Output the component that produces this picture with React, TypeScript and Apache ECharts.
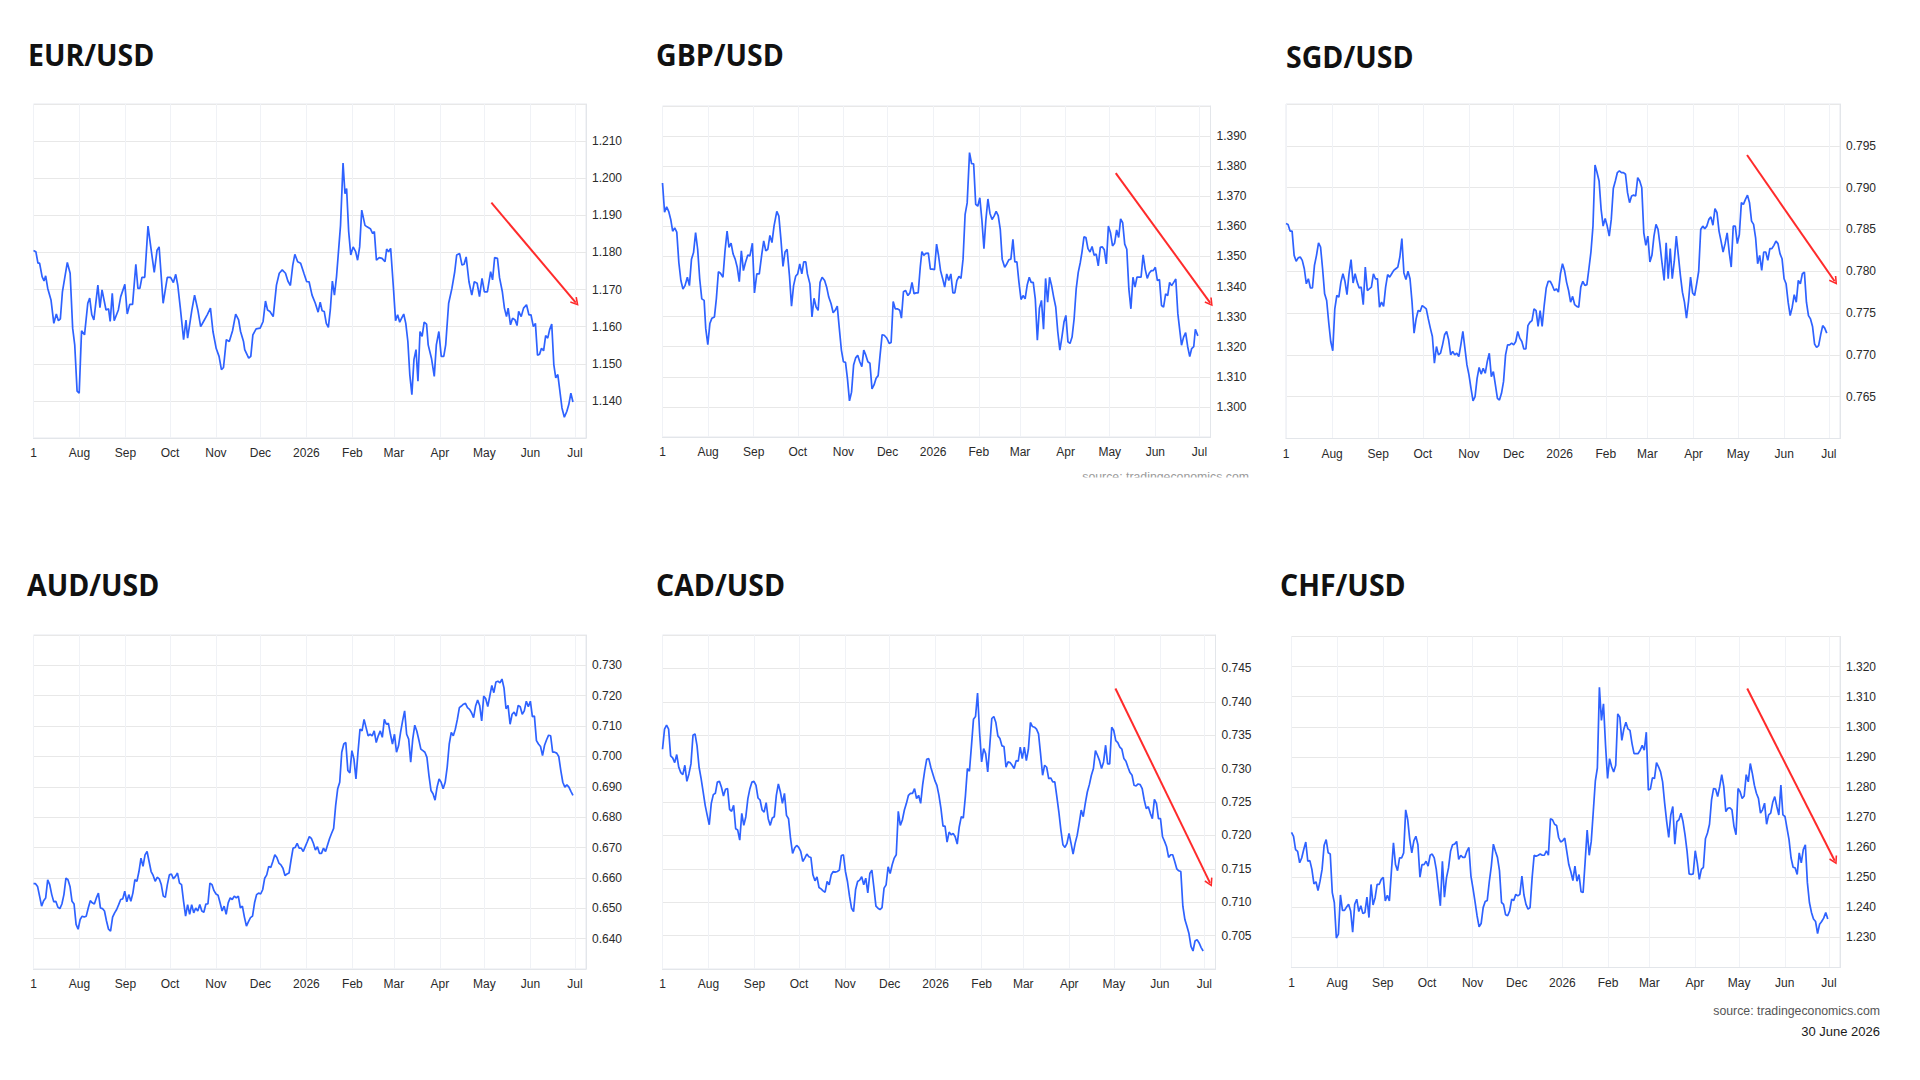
import React, { useEffect, useRef } from "react";
import * as echarts from "echarts";

// ---------- data ----------
// day offsets are counted from 1 July 2025
const START = new Date(2025, 6, 1).getTime();
const DAY = 86400000;
const X_MAX_DAY = 372.5;

const MONTHS = ["Jan", "Feb", "Mar", "Apr", "May", "Jun", "Jul", "Aug", "Sep", "Oct", "Nov", "Dec"];

const EUR_POINTS: [number, number][] = [
  [0, 1.1805], [1.6, 1.1802], [3.0, 1.1771], [4.1, 1.1771], [5.8, 1.1735], [7.1, 1.1723], [8.2, 1.1737], [9.6, 1.1703], [11.8, 1.1672], [13.7, 1.1609],
  [15.4, 1.1634], [16.8, 1.1616], [18.1, 1.1621], [19.5, 1.1694], [22.8, 1.1773], [24.7, 1.1744], [26.4, 1.1596], [27.8, 1.1551], [29.4, 1.1426], [30.8, 1.1421],
  [32.4, 1.1589], [34.4, 1.1578], [36.6, 1.1663], [37.9, 1.1677], [39.3, 1.1632], [40.7, 1.1618], [43.4, 1.1712], [44.8, 1.1651], [46.2, 1.1699], [48.9, 1.1645],
  [50.6, 1.1648], [51.7, 1.1614], [53.1, 1.169], [54.4, 1.1616], [57.2, 1.1645], [58.8, 1.1681], [61.6, 1.1714], [63.2, 1.1634], [64.9, 1.166], [66.8, 1.166],
  [69.0, 1.1768], [70.4, 1.1703], [71.7, 1.1703], [73.1, 1.1733], [75.0, 1.1733], [77.2, 1.1871], [79.2, 1.1811], [81.4, 1.1746], [83.3, 1.1806], [84.7, 1.1815],
  [87.4, 1.1663], [90.2, 1.1733], [92.4, 1.1733], [94.3, 1.1719], [95.9, 1.1741], [97.3, 1.1711], [99.0, 1.165], [101.2, 1.1565], [102.8, 1.1618], [103.9, 1.1569],
  [106.7, 1.1643], [108.6, 1.1685], [110.8, 1.1645], [112.7, 1.16], [114.9, 1.1616], [117.1, 1.1632], [119.3, 1.165], [121.0, 1.1587], [123.2, 1.1541], [125.1, 1.152],
  [126.7, 1.1484], [128.1, 1.149], [130.0, 1.1565], [132.0, 1.156], [134.2, 1.1589], [136.3, 1.1634], [138.3, 1.1618], [139.6, 1.1587], [141.6, 1.156], [142.4, 1.1538],
  [145.1, 1.1515], [146.5, 1.152], [147.9, 1.1578], [150.1, 1.1594], [152.8, 1.1596], [154.8, 1.1614], [156.4, 1.1669], [157.8, 1.1645], [159.4, 1.1641], [161.6, 1.1627],
  [163.8, 1.1712], [165.7, 1.1744], [167.7, 1.1753], [169.9, 1.1744], [171.5, 1.1723], [173.2, 1.1711], [174.8, 1.1766], [176.2, 1.1795], [178.1, 1.1775], [180.1, 1.1771],
  [182.3, 1.1744], [184.2, 1.1721], [185.8, 1.1721], [187.8, 1.1685], [190.0, 1.1663], [191.9, 1.1639], [193.3, 1.1666], [194.6, 1.1643], [196.0, 1.1641], [197.4, 1.1609],
  [198.8, 1.1598], [200.1, 1.1645], [201.5, 1.1723], [202.9, 1.1685], [204.3, 1.1735], [207.0, 1.1873], [208.7, 1.2041], [210.0, 1.1958], [211.1, 1.1972], [212.5, 1.1856],
  [213.9, 1.1793], [215.5, 1.1815], [217.2, 1.1802], [218.5, 1.1779], [219.9, 1.1815], [221.3, 1.1914], [223.5, 1.1873], [224.9, 1.1869], [227.1, 1.1864], [228.7, 1.1851],
  [229.8, 1.1856], [231.2, 1.1779], [233.1, 1.1786], [235.0, 1.1784], [237.0, 1.1775], [238.1, 1.1809], [239.4, 1.1802], [240.8, 1.1811], [242.7, 1.1703], [244.1, 1.1616],
  [245.5, 1.1632], [246.9, 1.1612], [248.2, 1.1623], [249.6, 1.1634], [251.0, 1.1609], [252.4, 1.156], [253.7, 1.1471], [255.1, 1.1417], [256.5, 1.1511], [257.9, 1.1538],
  [259.2, 1.1453], [260.6, 1.1587], [262.0, 1.1574], [263.4, 1.1612], [265.0, 1.1607], [266.1, 1.1551], [268.3, 1.1515], [270.2, 1.1466], [271.6, 1.1551], [273.3, 1.1587],
  [274.9, 1.152], [276.6, 1.152], [277.9, 1.1551], [279.9, 1.1663], [282.1, 1.1703], [284.0, 1.1748], [285.3, 1.1793], [287.3, 1.1797], [288.9, 1.1766], [290.3, 1.1768],
  [291.7, 1.1788], [293.6, 1.1721], [295.5, 1.1685], [297.2, 1.1721], [299.1, 1.1717], [300.7, 1.1681], [302.4, 1.173], [304.0, 1.1694], [306.0, 1.1694], [308.2, 1.1748],
  [309.5, 1.1726], [310.9, 1.1786], [312.8, 1.1784], [314.2, 1.1732], [316.1, 1.1694], [317.5, 1.165], [318.9, 1.1627], [320.0, 1.165], [321.6, 1.1605], [323.0, 1.1623],
  [324.7, 1.1618], [326.0, 1.1603], [327.1, 1.1641], [328.8, 1.1627], [330.4, 1.165], [332.4, 1.1659], [334.0, 1.1632], [335.4, 1.1632], [337.0, 1.16], [338.4, 1.1609],
  [339.8, 1.1523], [341.2, 1.1526], [342.5, 1.1542], [343.9, 1.1535], [345.3, 1.1576], [346.7, 1.1569], [348.0, 1.1592], [349.4, 1.1607], [350.8, 1.1498], [352.1, 1.1462],
  [353.5, 1.1471], [354.9, 1.1426], [356.3, 1.1381], [357.9, 1.1356], [359.6, 1.1372], [360.9, 1.139], [362.3, 1.1421], [363.7, 1.1397],
];

const GBP_POINTS: [number, number][] = [
  [0, 1.3744], [1.4, 1.3647], [2.8, 1.3665], [4.2, 1.365], [5.6, 1.3623], [6.9, 1.3584], [8.3, 1.3595], [9.7, 1.3581], [11.1, 1.348], [12.5, 1.342],
  [13.9, 1.3392], [15.3, 1.3403], [16.9, 1.3431], [18.3, 1.3403], [19.7, 1.3491], [21.1, 1.3513], [22.5, 1.3579], [23.9, 1.3524], [25.3, 1.3425], [26.7, 1.3359],
  [28.3, 1.3354], [29.4, 1.326], [30.8, 1.3207], [32.2, 1.3277], [33.6, 1.3295], [35.3, 1.3299], [36.6, 1.3359], [38.0, 1.3449], [39.4, 1.3444], [41.1, 1.3431],
  [42.5, 1.3519], [43.9, 1.3584], [45.2, 1.353], [46.6, 1.3544], [48.0, 1.3508], [49.4, 1.3491], [50.8, 1.3464], [52.2, 1.3416], [53.6, 1.3519], [55.0, 1.3453],
  [56.4, 1.348], [58.0, 1.3505], [59.4, 1.3502], [61.1, 1.3544], [62.5, 1.3379], [64.1, 1.3442], [65.8, 1.3442], [67.5, 1.3508], [68.8, 1.3552], [70.2, 1.3519],
  [71.6, 1.3524], [73.0, 1.357], [74.4, 1.3546], [75.8, 1.3601], [77.7, 1.365], [79.1, 1.3634], [80.5, 1.3557], [81.9, 1.3467], [83.3, 1.3515], [84.7, 1.3524],
  [86.3, 1.3436], [87.7, 1.3335], [89.1, 1.3403], [90.5, 1.3434], [91.9, 1.3442], [93.3, 1.3475], [94.7, 1.3442], [96.0, 1.3482], [97.4, 1.3482], [98.5, 1.3442],
  [100.2, 1.3409], [101.6, 1.3299], [103.0, 1.3361], [104.4, 1.3332], [105.8, 1.3321], [107.1, 1.3414], [108.5, 1.3431], [110.2, 1.342], [111.6, 1.3398], [113.0, 1.3365],
  [114.6, 1.3343], [116.0, 1.3313], [117.4, 1.3321], [118.8, 1.3335], [120.2, 1.326], [121.6, 1.3189], [123.0, 1.315], [124.4, 1.3148], [125.7, 1.3095], [127.1, 1.302],
  [128.5, 1.3049], [129.9, 1.3139], [131.3, 1.3163], [132.7, 1.3172], [134.1, 1.315], [135.5, 1.3134], [136.8, 1.3189], [138.2, 1.3172], [139.6, 1.315], [141.0, 1.3145],
  [142.4, 1.306], [143.8, 1.3073], [145.2, 1.3095], [146.6, 1.3104], [147.9, 1.3172], [149.3, 1.324], [150.7, 1.3238], [152.4, 1.3229], [154.1, 1.3211], [155.4, 1.3214],
  [156.8, 1.335], [158.2, 1.3326], [159.6, 1.3326], [161.3, 1.3321], [162.4, 1.3295], [163.8, 1.3383], [165.2, 1.3387], [166.8, 1.337], [168.2, 1.3379], [169.6, 1.3414],
  [171.0, 1.3376], [172.4, 1.3379], [173.8, 1.3379], [175.2, 1.3464], [176.3, 1.3516], [177.6, 1.3504], [179.0, 1.351], [180.7, 1.3511], [182.1, 1.3458], [183.5, 1.3458],
  [184.9, 1.3456], [186.3, 1.3541], [187.6, 1.3504], [189.0, 1.3453], [190.4, 1.3427], [191.8, 1.3398], [193.2, 1.3442], [194.6, 1.342], [196.0, 1.3442], [197.4, 1.3379],
  [198.7, 1.3379], [200.1, 1.342], [201.5, 1.3434], [202.9, 1.3427], [204.3, 1.3491], [205.7, 1.364], [207.1, 1.3678], [208.7, 1.3845], [210.1, 1.3808], [211.5, 1.3808],
  [212.9, 1.3673], [214.3, 1.3667], [215.7, 1.3695], [217.1, 1.3621], [218.5, 1.3526], [219.8, 1.3621], [221.2, 1.3691], [222.6, 1.3643], [224.0, 1.3623], [225.4, 1.3634],
  [226.8, 1.365], [228.2, 1.3636], [229.6, 1.359], [230.9, 1.3491], [232.6, 1.3464], [234.0, 1.3475], [235.4, 1.3489], [236.8, 1.3491], [238.2, 1.3557], [239.5, 1.3482],
  [240.9, 1.3482], [242.3, 1.3414], [243.7, 1.3357], [245.1, 1.337], [246.5, 1.3359], [247.9, 1.3405], [249.3, 1.3431], [250.6, 1.3414], [252.0, 1.3414], [253.4, 1.3359],
  [254.8, 1.3222], [256.2, 1.3328], [257.6, 1.3354], [259.0, 1.3258], [260.4, 1.3427], [261.8, 1.3348], [263.1, 1.3431], [264.5, 1.3403], [265.9, 1.3365], [267.3, 1.3332],
  [268.7, 1.3249], [270.1, 1.3189], [271.5, 1.3232], [272.9, 1.3282], [274.2, 1.3304], [275.6, 1.3216], [277.0, 1.3211], [278.4, 1.3232], [279.8, 1.3293], [281.2, 1.3392],
  [282.6, 1.3447], [284.0, 1.348], [285.1, 1.3513], [286.5, 1.3565], [287.8, 1.3563], [289.2, 1.3526], [290.6, 1.3515], [292.0, 1.3533], [293.4, 1.3504], [294.8, 1.3508],
  [296.2, 1.3469], [297.6, 1.353], [298.9, 1.3532], [300.3, 1.3522], [301.7, 1.3475], [303.1, 1.3601], [304.5, 1.3579], [305.9, 1.3535], [307.3, 1.3544], [308.7, 1.3588],
  [310.1, 1.3563], [311.4, 1.3625], [312.8, 1.3612], [314.2, 1.3541], [315.6, 1.3524], [317.0, 1.3392], [318.4, 1.3326], [319.8, 1.3431], [321.2, 1.3398], [322.5, 1.3431],
  [323.9, 1.3431], [325.3, 1.3431], [326.7, 1.3505], [328.1, 1.3458], [329.5, 1.3427], [330.9, 1.3445], [332.3, 1.3453], [333.6, 1.3453], [335.0, 1.3464], [336.4, 1.342],
  [337.8, 1.3423], [339.2, 1.3337], [340.6, 1.3332], [342.0, 1.3376], [343.4, 1.337], [344.7, 1.3414], [346.1, 1.3403], [347.5, 1.3414], [348.9, 1.3425], [350.3, 1.331],
  [351.7, 1.3251], [352.8, 1.3205], [354.2, 1.3232], [355.6, 1.3247], [357.0, 1.32], [358.4, 1.3167], [359.7, 1.3194], [361.1, 1.32], [362.2, 1.3258], [363.9, 1.3236],
];

// evenly spaced readings from 1 July 2025 to the last day given
const SGD_LAST_DAY = 363.6;
const SGD_VALUES = [
  0.7857, 0.7856, 0.7848, 0.7848, 0.7819, 0.7812, 0.7816, 0.7817, 0.7813, 0.7803,
  0.7785, 0.7791, 0.778, 0.778, 0.7807, 0.7819, 0.7834, 0.7829, 0.7803, 0.7773,
  0.7765, 0.7739, 0.7716, 0.7705, 0.7755, 0.7771, 0.7769, 0.7787, 0.7797, 0.7788,
  0.7772, 0.7797, 0.7814, 0.7786, 0.7797, 0.7787, 0.778, 0.7781, 0.776, 0.7805,
  0.7777, 0.7779, 0.7781, 0.7797, 0.7791, 0.7791, 0.7757, 0.7763, 0.7758, 0.7781,
  0.7796, 0.7793, 0.7797, 0.7801, 0.7803, 0.7805, 0.7817, 0.7839, 0.7798, 0.779,
  0.78, 0.7791, 0.7763, 0.7726, 0.7743, 0.7753, 0.7752, 0.7759, 0.7757, 0.7755,
  0.7743, 0.7732, 0.7722, 0.769, 0.771, 0.77, 0.7702, 0.7712, 0.7724, 0.7728,
  0.7718, 0.77, 0.7704, 0.77, 0.7702, 0.7698, 0.7712, 0.7728, 0.7708, 0.7688,
  0.7676, 0.766, 0.7645, 0.765, 0.7672, 0.7685, 0.7677, 0.7684, 0.7678, 0.7692,
  0.7702, 0.7674, 0.768, 0.7664, 0.7648, 0.7646, 0.7654, 0.7668, 0.77, 0.7712,
  0.7712, 0.7714, 0.7712, 0.7716, 0.7728,
  0.772, 0.7716, 0.7707, 0.7707, 0.7735, 0.7739, 0.7741, 0.7755, 0.7753, 0.7734,
  0.7753, 0.7734, 0.7759, 0.778, 0.7788, 0.7788, 0.7783, 0.7777, 0.7779, 0.7775,
  0.7797, 0.7809, 0.7801, 0.7787, 0.7777, 0.7763, 0.777, 0.776, 0.7758, 0.7757,
  0.7781, 0.7788, 0.7783, 0.7784, 0.7803, 0.7823, 0.7854, 0.7927, 0.7918, 0.7908,
  0.7874, 0.7854, 0.7863, 0.7854, 0.7842, 0.7862, 0.7899, 0.7908, 0.7918, 0.792,
  0.7918, 0.7918, 0.7916, 0.7894, 0.7882, 0.789, 0.7891, 0.789, 0.7912, 0.7908,
  0.79, 0.7846, 0.7831, 0.7842, 0.7811, 0.7819, 0.7842, 0.7856, 0.785, 0.7831,
  0.7809, 0.7789, 0.7834, 0.7791, 0.7827, 0.7791, 0.7812, 0.7842, 0.7819, 0.7795,
  0.7775, 0.7763, 0.7744, 0.7764, 0.7793, 0.7774, 0.7771, 0.7785, 0.78, 0.785,
  0.7854, 0.7851, 0.7854, 0.7862, 0.7865, 0.7855, 0.7875, 0.787, 0.7848, 0.7836,
  0.7823, 0.7833, 0.7846, 0.7823, 0.7805, 0.7854, 0.7854, 0.7833, 0.7844, 0.7882,
  0.788, 0.7886, 0.7891, 0.7882, 0.786, 0.7856, 0.784, 0.7809, 0.7819, 0.7801,
  0.7823, 0.7823, 0.7813, 0.7827, 0.7827, 0.7831, 0.7836, 0.7833, 0.7821, 0.7815,
  0.7791, 0.7785, 0.7763, 0.7747, 0.7757, 0.7772, 0.7763, 0.7789, 0.7785, 0.7797,
  0.7799, 0.7763, 0.7747, 0.7743, 0.7734, 0.7713, 0.7709, 0.7711, 0.7724, 0.7735,
  0.7732, 0.7726,
];

const AUD_LAST_DAY = 363.7;
const AUD_VALUES = [
  0.6581, 0.6581, 0.6572, 0.654, 0.6507, 0.6525, 0.6534, 0.6594, 0.6578, 0.6545,
  0.6521, 0.6523, 0.6504, 0.6499, 0.6514, 0.6545, 0.6599, 0.6594, 0.6572, 0.6523,
  0.6514, 0.6447, 0.6431, 0.6463, 0.6474, 0.6471, 0.6474, 0.6501, 0.6525, 0.6518,
  0.6514, 0.6534, 0.655, 0.6501, 0.6499, 0.6491, 0.6458, 0.6431,
  0.6425, 0.6471, 0.6485, 0.6496, 0.6512, 0.6529, 0.6531, 0.6556, 0.6521, 0.6545,
  0.6523, 0.655, 0.6594, 0.6589, 0.6621, 0.6665, 0.6638, 0.6676, 0.6687, 0.6654,
  0.6621, 0.6608, 0.6589, 0.6602, 0.6597, 0.6578, 0.654, 0.6536, 0.6578, 0.661,
  0.6613, 0.6597, 0.6605, 0.6616, 0.6583, 0.6578, 0.6523, 0.6474, 0.6512, 0.648,
  0.6512, 0.6485, 0.6501, 0.6491, 0.6512, 0.6491, 0.6487, 0.6514, 0.6514, 0.6583,
  0.6578, 0.6558, 0.6547, 0.6543, 0.6518, 0.6491, 0.6507, 0.648, 0.6518, 0.6534,
  0.6529, 0.654, 0.6534, 0.654, 0.6501, 0.6507, 0.6471, 0.6441, 0.6456, 0.6469,
  0.6474, 0.6518, 0.6545, 0.655, 0.6547, 0.6561, 0.6599, 0.661, 0.6638, 0.6634,
  0.6654, 0.6676, 0.6667, 0.6649, 0.6643, 0.6632, 0.6608, 0.6613, 0.6616, 0.6659,
  0.6698, 0.67, 0.6714, 0.6698, 0.6698, 0.6687, 0.6703, 0.6719, 0.6736, 0.673,
  0.6714, 0.6692, 0.6703, 0.6681, 0.6681, 0.6698, 0.6687, 0.6708, 0.673, 0.6747,
  0.6763, 0.6839, 0.6894, 0.6915, 0.7014, 0.7041, 0.7046, 0.6954, 0.6946, 0.7019,
  0.6992, 0.6926, 0.7014, 0.709, 0.7084, 0.7122, 0.7095, 0.7068, 0.7073, 0.7068,
  0.7084, 0.7046, 0.7068, 0.7084, 0.7063, 0.7122, 0.7106, 0.7109, 0.7073, 0.7041,
  0.7073, 0.7014, 0.7035, 0.7079, 0.7117, 0.715, 0.7073, 0.7057,
  0.6981, 0.7057, 0.7103, 0.7084, 0.7055,
  0.7024, 0.7019, 0.7014, 0.6997, 0.6937, 0.6888, 0.6877, 0.6856, 0.6899, 0.6926,
  0.6915, 0.6894, 0.6915, 0.6965, 0.7041, 0.7079, 0.7068, 0.709, 0.7122, 0.7161,
  0.7166, 0.7172, 0.7175, 0.7161, 0.7155, 0.7144, 0.7128, 0.7166, 0.7186, 0.7168,
  0.7117, 0.7199, 0.719, 0.7164, 0.7199, 0.7234, 0.721, 0.7245, 0.7248, 0.7242,
  0.7255, 0.7226, 0.7157, 0.7168, 0.7106, 0.7139, 0.7146, 0.7133, 0.7168, 0.7164,
  0.7139, 0.715, 0.7182, 0.7164, 0.7182, 0.7131, 0.7133, 0.7052, 0.7041, 0.7033,
  0.7003, 0.7037, 0.7055, 0.707, 0.7068, 0.7014, 0.7014, 0.7011, 0.7, 0.6954,
  0.6915, 0.6899, 0.6907, 0.6899, 0.6885, 0.6872,
];

const CAD_LAST_DAY = 364.2;
const CAD_VALUES = [
  0.7329, 0.7359, 0.7365, 0.7359, 0.7319, 0.7316, 0.7309, 0.7321, 0.7302, 0.7294,
  0.7291, 0.7305, 0.7281, 0.7292, 0.7307, 0.735, 0.7352, 0.7334, 0.7302, 0.7285,
  0.7265, 0.7245, 0.723, 0.7216,
  0.7248, 0.7261, 0.7263, 0.728, 0.7281, 0.7272, 0.7259, 0.7269, 0.727, 0.7239,
  0.7236, 0.7245, 0.721, 0.7208, 0.7193, 0.7233, 0.7215, 0.7228, 0.7255, 0.727,
  0.728, 0.7281, 0.7275, 0.7256, 0.7253, 0.7238, 0.7235, 0.7249, 0.7225, 0.7215,
  0.7226, 0.7228, 0.726, 0.7277, 0.7265, 0.7248, 0.7263, 0.723, 0.7225, 0.7195,
  0.7173, 0.7181, 0.7185, 0.7182, 0.7176, 0.7161, 0.7166, 0.7172, 0.7168, 0.7167,
  0.7141, 0.7132, 0.7138, 0.7122, 0.712, 0.7117, 0.7115, 0.7131, 0.7126, 0.7141,
  0.7146, 0.7145, 0.7146, 0.7148, 0.717, 0.7171, 0.7146, 0.7131, 0.7109, 0.7091,
  0.7086, 0.7119, 0.7131, 0.7133, 0.7138, 0.7126, 0.7136, 0.7114, 0.7143, 0.7148,
  0.7122, 0.7094, 0.7091, 0.7089, 0.7092, 0.7121, 0.7126, 0.7153, 0.7143, 0.7156,
  0.7166, 0.7171, 0.7236, 0.7215, 0.7223, 0.7238, 0.7248, 0.726, 0.7263, 0.7263,
  0.727, 0.7255, 0.726, 0.7248, 0.7276, 0.7297, 0.7314, 0.7315, 0.7302, 0.7292,
  0.7282, 0.7275, 0.726, 0.724, 0.7214, 0.7214, 0.719, 0.7205, 0.7201, 0.7203,
  0.7198, 0.7187, 0.7213, 0.7228, 0.7226, 0.7258, 0.73, 0.7296, 0.7334, 0.7374,
  0.7378, 0.7413,
  0.7354, 0.731, 0.733, 0.7322, 0.7295, 0.7334, 0.7375, 0.7378, 0.7369, 0.7349,
  0.7345, 0.7334, 0.7333, 0.7302, 0.731, 0.7309, 0.7305, 0.73, 0.7312, 0.7311,
  0.7332, 0.7315, 0.7332, 0.7312, 0.7329, 0.7369, 0.7363, 0.7362, 0.7359, 0.7352,
  0.7322, 0.729, 0.7305, 0.7302, 0.7285, 0.7286, 0.728, 0.728, 0.7258, 0.7235,
  0.7208, 0.7186, 0.7182, 0.7188, 0.7203, 0.7188, 0.7172, 0.7188, 0.72, 0.7218,
  0.7238, 0.7228, 0.7248, 0.7265, 0.7276, 0.729, 0.73, 0.7327, 0.732, 0.7312,
  0.73, 0.731, 0.7335, 0.7307, 0.7307, 0.7362, 0.7357, 0.7342, 0.7339, 0.7332,
  0.7329, 0.7315, 0.7311, 0.7302, 0.7294, 0.729, 0.7275, 0.7274, 0.7277, 0.7276,
  0.727, 0.7253, 0.724, 0.7243, 0.7233, 0.7225, 0.7254, 0.7248, 0.7225, 0.7225,
  0.7198, 0.7191, 0.7183, 0.7167, 0.7171, 0.7171, 0.7161, 0.715, 0.7147, 0.7146,
  0.7094, 0.7074, 0.7064, 0.7053, 0.7034, 0.7027, 0.7042, 0.7044, 0.7039, 0.7032,
  0.7027,
];

const CHF_LAST_DAY = 364.2;
const CHF_VALUES = [
  1.2649, 1.2636, 1.2592, 1.2586, 1.2548, 1.2564, 1.2592,
  1.2617, 1.2553, 1.2555, 1.2526, 1.2478, 1.2485, 1.2456, 1.2487, 1.2526, 1.2606,
  1.2625, 1.2581, 1.2577, 1.2449, 1.2416, 1.2298, 1.2311, 1.2441, 1.239, 1.239,
  1.2401, 1.241, 1.2388, 1.2317, 1.241, 1.2427, 1.2386, 1.2405, 1.2379, 1.2383,
  1.2434, 1.2366, 1.2476, 1.2408, 1.2432, 1.2476, 1.2476, 1.2493, 1.25, 1.2421,
  1.244, 1.2421, 1.252, 1.2614, 1.2542, 1.2522, 1.2564, 1.2564, 1.2581, 1.2724,
  1.2691, 1.2625, 1.2581, 1.2621, 1.2636, 1.2608, 1.25, 1.2542, 1.2542, 1.2553,
  1.2537, 1.2573, 1.2577, 1.2564, 1.2526, 1.2465, 1.2405, 1.2553, 1.2434, 1.2498,
  1.2531, 1.2586, 1.2608, 1.261, 1.2619, 1.2559, 1.2573, 1.2566, 1.2566, 1.2586,
  1.2599, 1.2504, 1.2463, 1.2419, 1.2372, 1.2335, 1.2346, 1.2399, 1.2419, 1.2423,
  1.2485, 1.2537, 1.261, 1.2586, 1.2566, 1.2522, 1.2416, 1.241, 1.2375, 1.2372,
  1.2388, 1.2427, 1.2423, 1.2443, 1.2438, 1.2443, 1.2504, 1.2441, 1.241, 1.2394,
  1.2399, 1.2498, 1.2573, 1.257, 1.2573, 1.2577, 1.2573, 1.2573, 1.2588, 1.2573,
  1.2694, 1.2691, 1.2676, 1.2672, 1.2632, 1.2617, 1.2621, 1.263, 1.2586, 1.2542,
  1.2518, 1.2489, 1.2537, 1.2487, 1.2509, 1.2452, 1.2449, 1.2551, 1.2657, 1.2573,
  1.2619, 1.2718, 1.2819, 1.2863,
  1.3131,
  1.3021, 1.3076, 1.294, 1.2828, 1.2894, 1.2867, 1.285, 1.2872, 1.3043, 1.3032,
  1.2955, 1.2993, 1.3015, 1.2993, 1.2988, 1.2944, 1.2911, 1.2911, 1.2911, 1.2922,
  1.2938, 1.2922, 1.2982, 1.279, 1.2793, 1.283, 1.2828, 1.2881, 1.2867, 1.285,
  1.2817, 1.2746, 1.2685, 1.2632, 1.2707, 1.2735, 1.261, 1.2685, 1.2691, 1.2713,
  1.2685, 1.2641, 1.2586, 1.2511, 1.2509, 1.2511, 1.2588, 1.2548, 1.2493, 1.2526,
  1.2533, 1.2628, 1.2647, 1.2676, 1.2757, 1.2795, 1.2793, 1.2768, 1.2801, 1.2841,
  1.2801, 1.2718, 1.2729, 1.2731, 1.2724, 1.2669, 1.2641, 1.2795, 1.2784, 1.2762,
  1.277, 1.2841, 1.2817, 1.2878, 1.2845, 1.2806, 1.2779, 1.2762, 1.2713, 1.2724,
  1.2746, 1.2676, 1.2707, 1.2713, 1.2749, 1.2768, 1.2735, 1.2707, 1.2806, 1.2707,
  1.2702, 1.2663, 1.2625, 1.2564, 1.2533, 1.2531, 1.2509, 1.2581, 1.2548, 1.2592,
  1.2608, 1.2482, 1.2416, 1.2383, 1.2361, 1.2353, 1.2313, 1.2344, 1.2353, 1.2364,
  1.2383, 1.2361,
];

// trend arrows: [day, rate] -> [day, rate]
const EUR_ARROW = [[308.7, 1.1934], [365.6, 1.1665]];
const GBP_ARROW = [[308.1, 1.3777], [372.3, 1.3346]];
const SGD_ARROW = [[310.0, 0.7939], [368.9, 0.7788]];
const AUD_ARROW = [[320.5, 0.7408], [368.1, 0.7037]];
const CAD_ARROW = [[305.1, 0.742], [368.8, 0.7129]];
const CHF_ARROW = [[309.5, 1.3127], [368.9, 1.2555]];

// axis ranges
const EUR_AXIS = { min: 1.13, max: 1.22, interval: 0.01 };
const GBP_AXIS = { min: 1.29, max: 1.4, interval: 0.01 };
const SGD_AXIS = { min: 0.76, max: 0.8, interval: 0.005 };
const AUD_AXIS = { min: 0.63, max: 0.74, interval: 0.01 };
const CAD_AXIS = { min: 0.7, max: 0.75, interval: 0.005 };
const CHF_AXIS = { min: 1.22, max: 1.33, interval: 0.01 };

const SOURCE_TEXT = "source: tradingeconomics.com";
const DATE_TEXT = "30 June 2026";

// ---------- helpers ----------
const fromPoints = (pts: number[][]) => pts.map(([d, v]) => [START + d * DAY, v]);
const fromEven = (vals: number[], lastDay: number) =>
  vals.map((v, i) => [START + ((i * lastDay) / (vals.length - 1)) * DAY, v]);

const PANELS = [
  { title: "EUR/USD", data: fromPoints(EUR_POINTS), axis: EUR_AXIS, arrow: EUR_ARROW,
    grid: { left: 33.5, top: 104, width: 552.5, height: 334 }, titleAt: [28, 55] },
  { title: "GBP/USD", data: fromPoints(GBP_POINTS), axis: GBP_AXIS, arrow: GBP_ARROW,
    grid: { left: 662.5, top: 106, width: 548, height: 331 }, titleAt: [656, 55] },
  { title: "SGD/USD", data: fromEven(SGD_VALUES, SGD_LAST_DAY), axis: SGD_AXIS, arrow: SGD_ARROW,
    grid: { left: 1286, top: 104, width: 554, height: 334.5 }, titleAt: [1286, 57] },
  { title: "AUD/USD", data: fromEven(AUD_VALUES, AUD_LAST_DAY), axis: AUD_AXIS, arrow: AUD_ARROW,
    grid: { left: 33.5, top: 635, width: 552.5, height: 334 }, titleAt: [27, 585] },
  { title: "CAD/USD", data: fromEven(CAD_VALUES, CAD_LAST_DAY), axis: CAD_AXIS, arrow: CAD_ARROW,
    grid: { left: 662.5, top: 635, width: 553, height: 334 }, titleAt: [656, 585] },
  { title: "CHF/USD", data: fromEven(CHF_VALUES, CHF_LAST_DAY), axis: CHF_AXIS, arrow: CHF_ARROW,
    grid: { left: 1291.5, top: 636.5, width: 548.5, height: 331 }, titleAt: [1280, 585] },
];

const LABEL_FONT = '"Liberation Sans", Arial, Helvetica, sans-serif';
// open chevron arrow head, tip at the top
const CHEVRON = "path://M5,0 L10,8.6 L8.5,9.6 L5,3.4 L1.5,9.6 L0,8.6 Z";

function buildOption() {
  const grids: any[] = [];
  const xAxes: any[] = [];
  const yAxes: any[] = [];
  const series: any[] = [];
  const graphics: any[] = [];

  PANELS.forEach((p, i) => {
    grids.push({
      ...p.grid,
      show: true,
      borderColor: "#e6e9ee",
      borderWidth: 1,
      backgroundColor: "transparent",
      containLabel: false,
    });
    xAxes.push({
      type: "time",
      gridIndex: i,
      min: START,
      max: START + X_MAX_DAY * DAY,
      splitNumber: 12,
      minInterval: 28 * DAY,
      maxInterval: 31 * DAY,
      axisLine: { show: true, lineStyle: { color: "#e3e6ea", width: 1 } },
      axisTick: { show: false },
      splitLine: { show: true, lineStyle: { color: "#f0f2f6", width: 1 } },
      axisLabel: {
        color: "#2a2a2a",
        fontSize: 12,
        fontFamily: LABEL_FONT,
        margin: 9,
        hideOverlap: false,
        formatter: (val: number) => {
          const d = new Date(val);
          if (d.getFullYear() === 2025 && d.getMonth() === 6) return "1";
          if (d.getMonth() === 0) return String(d.getFullYear());
          return MONTHS[d.getMonth()];
        },
      },
    });
    yAxes.push({
      type: "value",
      gridIndex: i,
      position: "right",
      min: p.axis.min,
      max: p.axis.max,
      interval: p.axis.interval,
      axisLine: { show: true, lineStyle: { color: "#e3e6ea", width: 1 } },
      axisTick: { show: false },
      splitLine: { show: true, lineStyle: { color: "#e8e8e8", width: 1 } },
      axisLabel: {
        color: "#2a2a2a",
        fontSize: 12,
        fontFamily: LABEL_FONT,
        margin: 6,
        showMinLabel: false,
        showMaxLabel: false,
        formatter: (v: number) => v.toFixed(3),
      },
    });
    series.push({
      type: "line",
      name: p.title,
      xAxisIndex: i,
      yAxisIndex: i,
      data: p.data,
      showSymbol: false,
      symbol: "none",
      clip: false,
      lineStyle: { color: "#2e62ff", width: 1.7 },
      z: 3,
      markLine: {
        silent: true,
        animation: false,
        symbol: ["none", CHEVRON],
        symbolSize: 9,
        symbolKeepAspect: true,
        label: { show: false },
        lineStyle: { color: "#ff2b2b", width: 2, type: "solid" },
        itemStyle: { color: "#ff2b2b" },
        data: [
          [
            { coord: [START + p.arrow[0][0] * DAY, p.arrow[0][1]] },
            { coord: [START + p.arrow[1][0] * DAY, p.arrow[1][1]] },
          ],
        ],
      },
    });
    graphics.push({
      type: "text",
      x: p.titleAt[0],
      y: p.titleAt[1],
      scaleX: 0.95,
      style: {
        text: p.title,
        fill: "#111",
        fontSize: 30,
        fontWeight: "bold",
        fontFamily: '"Open Sans", "Noto Sans", sans-serif',
        verticalAlign: "middle",
        align: "left",
      },
    });
  });

  // the GBP panel's own source line, mostly hidden below the frame
  graphics.push({
    type: "text",
    x: 1249,
    y: 471,
    style: {
      text: SOURCE_TEXT,
      fill: "#9a9a9a",
      fontSize: 12.3,
      fontFamily: LABEL_FONT,
      align: "right",
      verticalAlign: "top",
    },
  });
  graphics.push({
    type: "rect",
    shape: { x: 1070, y: 477.5, width: 200, height: 16 },
    style: { fill: "#ffffff" },
    z: 10,
  });

  graphics.push({
    type: "text",
    x: 1880,
    y: 1011,
    style: {
      text: SOURCE_TEXT,
      fill: "#555",
      fontSize: 12.3,
      fontFamily: LABEL_FONT,
      align: "right",
      verticalAlign: "middle",
    },
  });
  graphics.push({
    type: "text",
    x: 1880,
    y: 1031,
    style: {
      text: DATE_TEXT,
      fill: "#1a1a1a",
      fontSize: 13,
      fontFamily: LABEL_FONT,
      align: "right",
      verticalAlign: "middle",
    },
  });

  return {
    animation: false,
    backgroundColor: "#ffffff",
    grid: grids,
    xAxis: xAxes,
    yAxis: yAxes,
    series,
    graphic: graphics,
  };
}

export default function App() {
  const ref = useRef<HTMLDivElement | null>(null);
  useEffect(() => {
    if (!ref.current) return;
    const chart = echarts.init(ref.current, undefined, { renderer: "svg", width: 1920, height: 1080 });
    chart.setOption(buildOption() as any);
    return () => chart.dispose();
  }, []);
  return (
    <div
      ref={ref}
      style={{ position: "absolute", left: 0, top: 0, width: 1920, height: 1080, background: "#fff" }}
    />
  );
}
